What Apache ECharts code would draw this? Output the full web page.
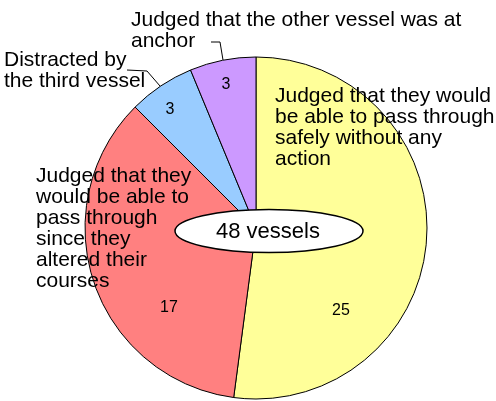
<!DOCTYPE html>
<html>
<head>
<meta charset="utf-8">
<script src="https://cdn.jsdelivr.net/npm/echarts@6/dist/echarts.min.js"></script>
<style>
  html, body { margin: 0; padding: 0; background: #fff; }
  #main { width: 496px; height: 401px; }
</style>
</head>
<body>
<div id="main"></div>
<script>
// slices, clockwise from 12 o'clock
var reasons = [
  'Judged that they would\nbe able to pass through\nsafely without any\naction',
  'Judged that they\nwould be able to\npass through\nsince they\naltered their\ncourses',
  'Distracted by\nthe third vessel',
  'Judged that the other vessel was at\nanchor'
];
var counts = [25, 17, 3, 3];
var colors = ['#FFFF99', '#FF8080', '#99CCFF', '#CC99FF'];
var totalLabel = '48 vessels';

// where the value numbers and the reason texts sit
var valuePos = [[341, 311], [169, 308], [170, 110], [226, 85]];
var reasonPos = [[275, 86], [36, 166], [4, 50], [131, 10]];

var font = "'Liberation Sans', Arial, sans-serif";

var chart = echarts.init(document.getElementById('main'), null, { renderer: 'canvas' });

var pieData = counts.map(function (v, i) {
  return { value: v, name: reasons[i], itemStyle: { color: colors[i] } };
});

var graphics = reasons.map(function (txt, i) {
  return {
    type: 'text',
    left: reasonPos[i][0],
    top: reasonPos[i][1],
    z: 100,
    style: {
      text: txt,
      fill: '#000',
      font: '21px ' + font,
      lineHeight: 21
    }
  };
});

// leader lines
graphics.push({
  type: 'polyline', z: 100,
  shape: { points: [[127, 70], [147, 71], [160, 86]] },
  style: { stroke: '#000', lineWidth: 1, fill: null }
});
graphics.push({
  type: 'polyline', z: 100,
  shape: { points: [[211, 42], [220, 42], [223, 60]] },
  style: { stroke: '#000', lineWidth: 1, fill: null }
});

// centre ellipse with the total
graphics.push({
  type: 'ellipse', z: 100,
  shape: { cx: 269, cy: 231, rx: 94, ry: 21.5 },
  style: { fill: '#fff', stroke: '#000', lineWidth: 1.5 }
});
graphics.push({
  type: 'text', z: 101,
  x: 268, y: 232,
  style: {
    text: totalLabel,
    fill: '#000',
    font: '22px ' + font,
    align: 'center',
    verticalAlign: 'middle'
  }
});

var option = {
  backgroundColor: '#fff',
  animation: false,
  series: [
    {
      type: 'pie',
      center: [256, 228],
      radius: 171,
      startAngle: 90,
      clockwise: true,
      avoidLabelOverlap: false,
      itemStyle: { borderColor: '#000', borderWidth: 1 },
      label: {
        show: true,
        position: 'inside',
        formatter: '{c}',
        color: '#000',
        fontFamily: font,
        fontSize: 16
      },
      labelLine: { show: false },
      labelLayout: function (params) {
        var p = valuePos[params.dataIndex];
        return { x: p[0], y: p[1], align: 'center', verticalAlign: 'middle' };
      },
      emphasis: { disabled: true },
      data: pieData
    }
  ],
  graphic: graphics
};

chart.setOption(option);
</script>
</body>
</html>
